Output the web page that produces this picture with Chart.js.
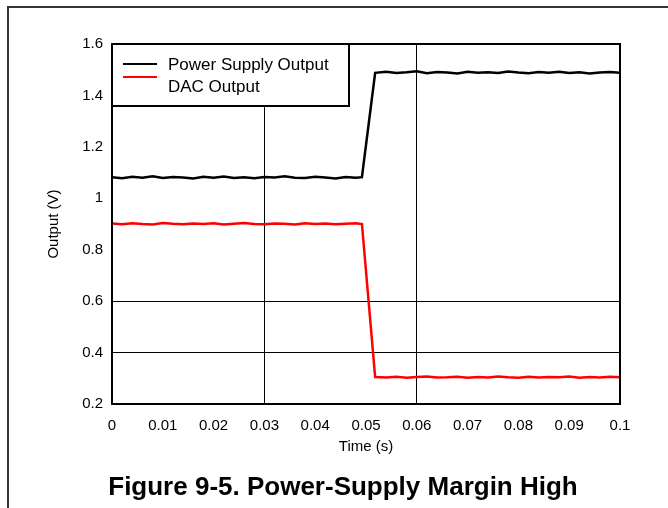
<!DOCTYPE html>
<html>
<head>
<meta charset="utf-8">
<script src="https://cdn.jsdelivr.net/npm/chart.js@4.4.0/dist/chart.umd.min.js"></script>
<style>
  html, body { margin: 0; padding: 0; background: #fff; overflow: hidden; }
  #wrap { position: relative; width: 668px; height: 508px; }
  #frame { position: absolute; left: 7px; top: 6px; width: 700px; height: 600px;
           border-left: 2px solid #333; border-top: 2px solid #333; }
  canvas { position: absolute; left: 0; top: 0; }
  #caption { position: absolute; left: 0; width: 686px; top: 473px; text-align: center;
             font: bold 26px Arial, "Liberation Sans", sans-serif; line-height: 26px; color: #000;
             white-space: nowrap; }
</style>
</head>
<body>
<div id="wrap">
  <div id="frame"></div>
  <canvas id="chart" width="668" height="508"></canvas>
  <div id="caption">Figure 9-5. Power-Supply Margin High</div>
</div>
<script>
// time axis (s)
const times = [
  0, 0.002, 0.004, 0.006, 0.008, 0.010, 0.012, 0.014, 0.016, 0.018,
  0.020, 0.022, 0.024, 0.026, 0.028, 0.030, 0.032, 0.034, 0.036, 0.038,
  0.040, 0.042, 0.044, 0.046, 0.048, 0.0492, 0.0518,
  0.054, 0.056, 0.058, 0.060, 0.062, 0.064, 0.066, 0.068, 0.070, 0.072,
  0.074, 0.076, 0.078, 0.080, 0.082, 0.084, 0.086, 0.088, 0.090, 0.092,
  0.094, 0.096, 0.098, 0.100
];

// Power supply output (V)
const supplyOut = [
  1.082, 1.078, 1.084, 1.080, 1.086, 1.079, 1.083, 1.081, 1.077, 1.084,
  1.080, 1.085, 1.079, 1.082, 1.078, 1.083, 1.081, 1.086, 1.080, 1.079,
  1.084, 1.081, 1.077, 1.083, 1.080, 1.082, 1.488,
  1.492, 1.487, 1.490, 1.494, 1.486, 1.491, 1.489, 1.485, 1.492, 1.488,
  1.490, 1.487, 1.493, 1.489, 1.486, 1.491, 1.488, 1.492, 1.487, 1.490,
  1.485, 1.489, 1.491, 1.488
];

// DAC output (V)
const dacOut = [
  0.902, 0.899, 0.903, 0.900, 0.898, 0.904, 0.901, 0.899, 0.902, 0.900,
  0.903, 0.898, 0.901, 0.904, 0.900, 0.899, 0.902, 0.901, 0.898, 0.903,
  0.900, 0.902, 0.899, 0.901, 0.903, 0.900, 0.305,
  0.303, 0.306, 0.302, 0.305, 0.307, 0.303, 0.304, 0.306, 0.302, 0.305,
  0.303, 0.307, 0.304, 0.302, 0.306, 0.303, 0.305, 0.304, 0.307, 0.302,
  0.305, 0.303, 0.306, 0.304
];

const seriesLabels = ['Power Supply Output', 'DAC Output'];
const xGridAt = [0.03, 0.06];
const yGridAt = [0.4, 0.6];

const FONT = 'Arial, "Liberation Sans", sans-serif';

function toPoints(values) {
  return times.map((t, i) => ({ x: t, y: values[i] }));
}

function near(list, v) {
  return list.some((g) => Math.abs(g - v) < 1e-6);
}

// frame around plot area + legend box inside top-left
const boxPlugin = {
  id: 'boxPlugin',
  afterDraw(chart) {
    const { ctx, chartArea: a } = chart;
    ctx.save();
    ctx.strokeStyle = '#000';
    ctx.lineWidth = 2;
    ctx.strokeRect(a.left, a.top, a.right - a.left, a.bottom - a.top);

    // legend
    const lx = a.left, ly = a.top, lw = 237, lh = 62;
    ctx.fillStyle = '#fff';
    ctx.fillRect(lx, ly, lw, lh);
    ctx.strokeRect(lx, ly, lw, lh);
    const lineY = [ly + 20, ly + 33];
    const textY = [ly + 21, ly + 43];
    ctx.font = '17px ' + FONT;
    ctx.textBaseline = 'middle';
    chart.data.datasets.forEach((ds, i) => {
      ctx.strokeStyle = ds.borderColor;
      ctx.lineWidth = 2;
      ctx.beginPath();
      ctx.moveTo(lx + 11, lineY[i]);
      ctx.lineTo(lx + 45, lineY[i]);
      ctx.stroke();
      ctx.fillStyle = '#000';
      ctx.fillText(ds.label, lx + 56, textY[i]);
    });
    ctx.restore();
  }
};

new Chart(document.getElementById('chart'), {
  type: 'line',
  data: {
    datasets: [
      { label: seriesLabels[0], data: toPoints(supplyOut), borderColor: '#000000', borderWidth: 2.5, pointRadius: 0, tension: 0 },
      { label: seriesLabels[1], data: toPoints(dacOut), borderColor: '#ff0000', borderWidth: 2.5, pointRadius: 0, tension: 0 }
    ]
  },
  options: {
    responsive: false,
    animation: false,
    layout: { padding: { left: 0, top: 44, right: 48, bottom: 48 } },
    plugins: {
      legend: { display: false },
      tooltip: { enabled: false }
    },
    scales: {
      x: {
        type: 'linear',
        min: 0,
        max: 0.1,
        afterFit(scale) { scale.height = 56; },
        border: { display: false },
        grid: {
          drawTicks: false,
          lineWidth: 1,
          color: (c) => (c.tick && near(xGridAt, c.tick.value) ? '#000' : 'rgba(0,0,0,0)')
        },
        ticks: {
          stepSize: 0.01,
          padding: 13,
          color: '#000',
          maxRotation: 0,
          font: { family: FONT, size: 15 },
          callback: (v) => String(Math.round(v * 100) / 100)
        },
        title: {
          display: true,
          text: 'Time (s)',
          color: '#000',
          font: { family: FONT, size: 15 },
          padding: { top: 0, bottom: 4 }
        }
      },
      y: {
        min: 0.2,
        max: 1.6,
        afterFit(scale) { scale.width = 112; },
        border: { display: false },
        grid: {
          drawTicks: false,
          lineWidth: 1,
          color: (c) => (c.tick && near(yGridAt, c.tick.value) ? '#000' : 'rgba(0,0,0,0)')
        },
        ticks: {
          stepSize: 0.2,
          padding: 9,
          color: '#000',
          font: { family: FONT, size: 15 },
          callback: (v) => String(Math.round(v * 10) / 10)
        },
        title: {
          display: true,
          text: 'Output (V)',
          color: '#000',
          font: { family: FONT, size: 15 },
          padding: { top: 45, bottom: 0 }
        }
      }
    }
  },
  plugins: [boxPlugin]
});
</script>
</body>
</html>
